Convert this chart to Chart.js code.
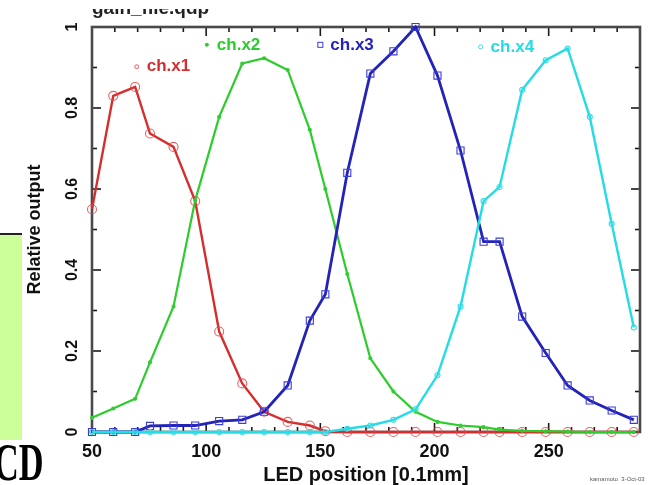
<!DOCTYPE html>
<html>
<head>
<meta charset="utf-8">
<title>Relative output vs LED position</title>
<script src="https://cdn.jsdelivr.net/npm/chart.js@4.4.1/dist/chart.umd.min.js"></script>
<style>
  html, body { margin: 0; padding: 0; background: #fff; }
  #wrap { position: relative; width: 669px; height: 485px; overflow: hidden; background: #fff; }
  #wrap canvas { position: absolute; left: 0; top: 0; }
  .side-box {
    position: absolute; left: 0; top: 233px; width: 22px; height: 207px;
    background: #ccff99; border-top: 2px solid #222; box-sizing: border-box;
  }
  .side-text {
    position: absolute; left: -6px; top: 437px;
    font: bold 52px "Liberation Serif", "DejaVu Serif", serif; line-height: 52px;
    transform: scaleX(0.66); transform-origin: 0 0; color: #000; white-space: nowrap;
  }
</style>
</head>
<body>
<div id="wrap">
  <canvas id="chart" width="669" height="485"></canvas>
  <div class="side-box"></div>
  <div class="side-text">CD</div>
</div>
<script>
/* ── LED scan: relative output of the four channels ───── */

// LED positions [0.1mm] shared by all channels
const POSITIONS = [50, 59.3, 68.9, 75.4, 85.7, 95.2, 105.7, 115.8, 125.4, 135.7, 145.4, 152.2, 161.8,
  171.9, 182, 191.7, 201.3, 211.4, 221.5, 228.5, 238.4, 248.7, 258.3, 268, 277.6, 287.3];

const CH_X1 = [0.55, 0.83, 0.852, 0.737, 0.704, 0.57, 0.248, 0.12, 0.05, 0.025, 0.016, 0.002, 0,
  0, 0, 0, 0, 0, 0, 0, 0, 0, 0, 0, 0, 0];
const CH_X2 = [0.035, 0.058, 0.082, 0.172, 0.31, 0.572, 0.778, 0.91, 0.923, 0.894, 0.746, 0.6, 0.39,
  0.182, 0.1, 0.05, 0.025, 0.016, 0.012, 0.006, 0.003, 0.002, 0.001, 0, 0, 0];
const CH_X3 = [0, 0, 0, 0.015, 0.016, 0.016, 0.027, 0.03, 0.05, 0.115, 0.275, 0.34, 0.64,
  0.885, 0.94, 1.0, 0.88, 0.695, 0.47, 0.47, 0.285, 0.195, 0.115, 0.078, 0.053, 0.03];
const CH_X4 = [0, 0, 0, 0, 0, 0, 0, 0, 0, 0, 0, 0, 0.008,
  0.016, 0.03, 0.056, 0.14, 0.31, 0.57, 0.605, 0.845, 0.918, 0.947, 0.778, 0.514, 0.258];

const X_TICKS = [50, 100, 150, 200, 250];
const Y_TICKS = [0, 0.2, 0.4, 0.6, 0.8, 1];
const FILE_LABEL = "gain_file.qdp";
const CREDIT = "kamamoto  3-Oct-03";

const FONT = "'Liberation Sans', Arial, Helvetica, sans-serif";

const SERIES = [
  { label: "ch.x1", values: CH_X1, color: "#d62e2e", mark: "rgba(228,70,70,0.85)", style: "circle", radius: 4.5, fill: false, width: 2.4, order: 4, key: { x: 69.6, y: 0.902 } },
  { label: "ch.x2", values: CH_X2, color: "#2ccc2c", mark: "#33cc33", style: "circle", radius: 1.5, fill: true, width: 2.2, order: 3, key: { x: 100.3, y: 0.956 } },
  { label: "ch.x3", values: CH_X3, color: "#2323b8", mark: "#3c3cd8", style: "rect", radius: 5, fill: false, width: 2.8, order: 2, key: { x: 150, y: 0.956 } },
  { label: "ch.x4", values: CH_X4, color: "#25dbe6", mark: "#30dde8", style: "circle", radius: 2.5, fill: false, width: 2.4, order: 1, key: { x: 220.2, y: 0.951 } },
];

function points(values) {
  return POSITIONS.map((x, i) => ({ x, y: values[i] }));
}

function line(ctx, x1, y1, x2, y2) {
  ctx.beginPath();
  ctx.moveTo(x1, y1);
  ctx.lineTo(x2, y2);
  ctx.stroke();
}

// box frame with inward ticks on all four sides (qdp look)
const qdpFrame = {
  id: "qdpFrame",
  beforeDatasetsDraw(chart) {
    const { ctx, chartArea: a, scales: { x, y } } = chart;
    ctx.save();
    ctx.strokeStyle = "#1a1a1a";
    ctx.lineWidth = 1.6;
    for (let v = x.min; v <= x.max; v += 10) {
      const px = x.getPixelForValue(v);
      const len = X_TICKS.includes(v) ? 9 : 5;
      line(ctx, px, a.top, px, a.top + len);
      line(ctx, px, a.bottom, px, a.bottom - len);
    }
    for (let i = 1; i < 10; i++) {
      const py = y.getPixelForValue(i / 10);
      const len = i % 2 === 0 ? 9 : 5;
      line(ctx, a.left, py, a.left + len, py);
      line(ctx, a.right, py, a.right - len, py);
    }
    ctx.strokeStyle = "#4a4a4a";
    ctx.lineWidth = 2.6;
    ctx.strokeRect(a.left, a.top, a.right - a.left, a.bottom - a.top);
    ctx.restore();
  },
  afterDatasetsDraw(chart) {
    const { ctx, scales: { x, y } } = chart;
    ctx.save();
    // in-plot keys
    ctx.font = `bold 17px ${FONT}`;
    ctx.textBaseline = "middle";
    ctx.textAlign = "left";
    SERIES.forEach((s) => {
      const kx = x.getPixelForValue(s.key.x);
      const ky = y.getPixelForValue(s.key.y);
      ctx.strokeStyle = s.mark;
      ctx.fillStyle = s.mark;
      ctx.lineWidth = 1;
      if (s.style === "rect") {
        ctx.strokeRect(kx - 2.5, ky - 2.5, 5, 5);
      } else {
        ctx.beginPath();
        ctx.arc(kx, ky, 2, 0, Math.PI * 2);
        if (s.fill) ctx.fill(); else ctx.stroke();
      }
      ctx.fillStyle = s.color;
      ctx.fillText(s.label, kx + 10, ky);
    });
    // file name at the top, cut off like the source
    ctx.beginPath();
    ctx.rect(0, 9, chart.width, 18);
    ctx.clip();
    ctx.fillStyle = "#222";
    ctx.font = `bold 19px ${FONT}`;
    ctx.textBaseline = "alphabetic";
    ctx.fillText(FILE_LABEL, x.getPixelForValue(50), 14);
    ctx.restore();

    ctx.save();
    ctx.fillStyle = "#555";
    ctx.font = `6px ${FONT}`;
    ctx.textBaseline = "middle";
    ctx.fillText(CREDIT, 590, 479);
    ctx.restore();
  },
};

new Chart(document.getElementById("chart"), {
  type: "line",
  data: {
    datasets: SERIES.map((s) => ({
      label: s.label,
      data: points(s.values),
      borderColor: s.color,
      borderWidth: s.width,
      tension: 0,
      fill: false,
      clip: false,
      order: s.order,
      pointStyle: s.style,
      pointRadius: s.radius,
      pointBorderWidth: 1.1,
      pointBorderColor: s.mark,
      pointBackgroundColor: s.fill ? s.mark : "rgba(0,0,0,0)",
    })),
  },
  options: {
    responsive: false,
    animation: false,
    layout: { padding: { top: 27, right: 29, left: 0, bottom: 0 } },
    plugins: { legend: { display: false }, tooltip: { enabled: false } },
    scales: {
      x: {
        type: "linear",
        min: 50,
        max: 290,
        grid: { display: false },
        border: { display: false },
        afterBuildTicks: (s) => { s.ticks = X_TICKS.map((v) => ({ value: v })); },
        ticks: {
          padding: 1,
          color: "#111",
          font: { family: FONT, size: 18, weight: "bold" },
        },
        title: {
          display: true,
          text: "LED position [0.1mm]",
          color: "#111",
          font: { family: FONT, size: 20, weight: "bold", lineHeight: 1 },
          padding: { top: 0, bottom: 0 },
        },
        afterFit: (s) => { s.height = 53; },
      },
      y: {
        min: 0,
        max: 1,
        grid: { display: false },
        border: { display: false },
        afterBuildTicks: (s) => { s.ticks = Y_TICKS.map((v) => ({ value: v })); },
        ticks: {
          minRotation: 90,
          maxRotation: 90,
          crossAlign: "center",
          padding: 0,
          color: "#111",
          font: { family: FONT, size: 16, weight: "bold" },
          callback: (v) => String(Math.round(v * 10) / 10),
        },
        title: {
          display: true,
          text: "Relative output",
          color: "#111",
          font: { family: FONT, size: 18, weight: "bold", lineHeight: 1 },
          padding: { top: 26, bottom: 0 },
        },
        afterFit: (s) => { s.width = 92; },
      },
    },
  },
  plugins: [qdpFrame],
});
</script>
</body>
</html>
